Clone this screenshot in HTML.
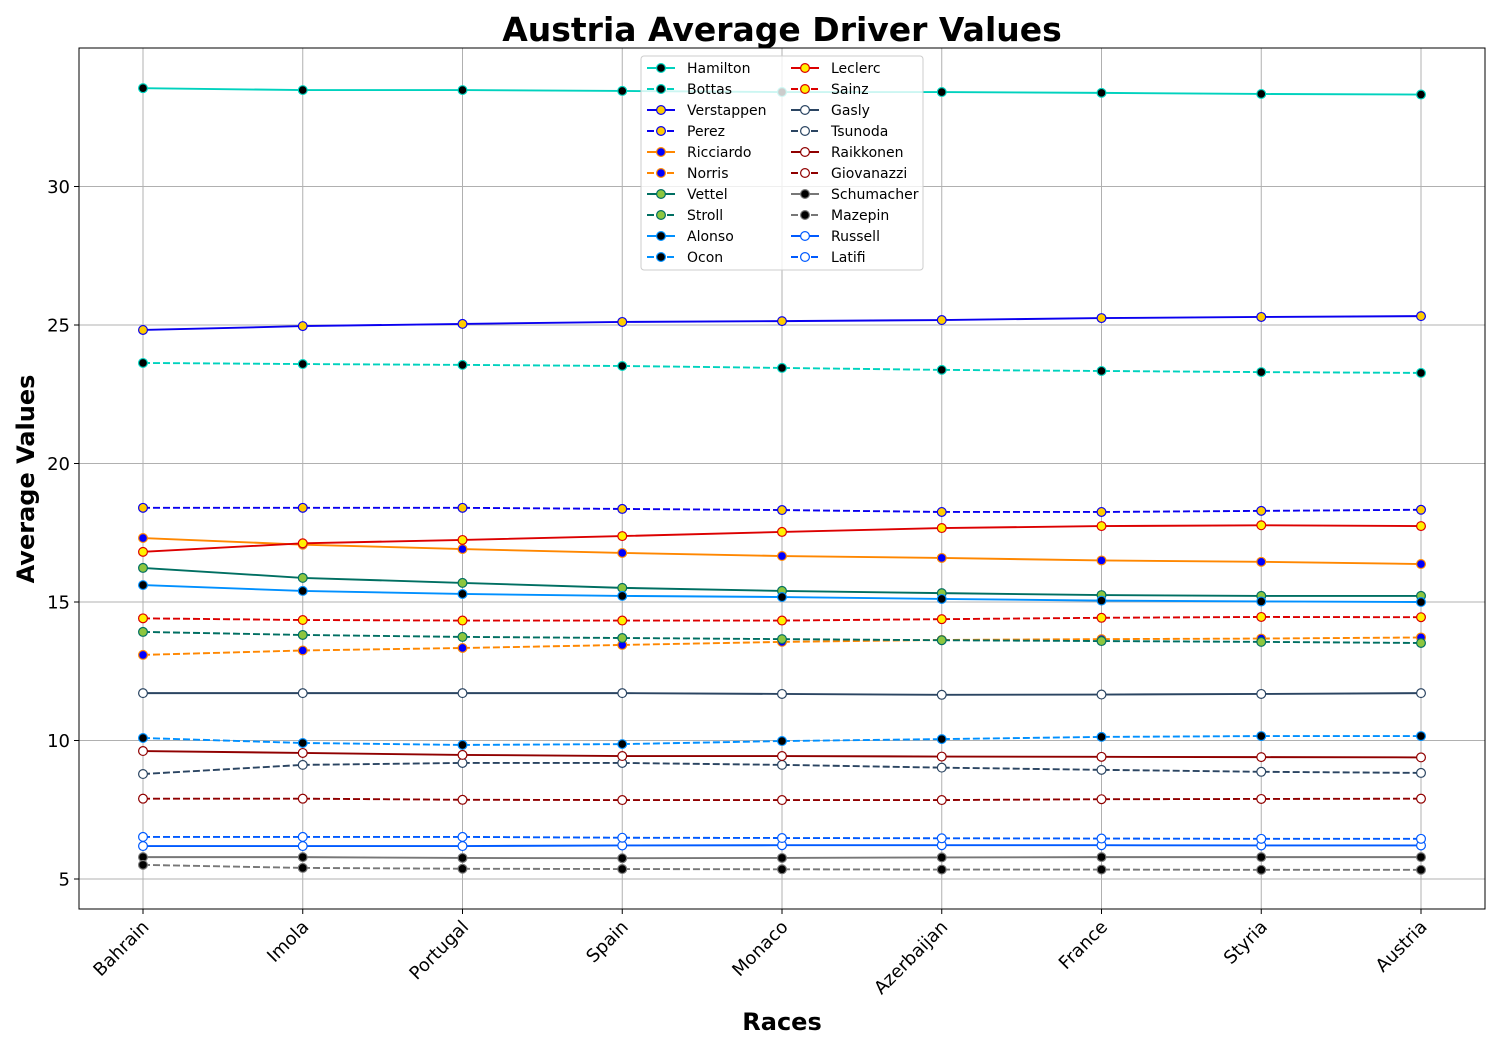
<!DOCTYPE html>
<html><head><meta charset="utf-8"><style>
body{margin:0;background:#fff;font-family:"Liberation Sans","DejaVu Sans",sans-serif;}
svg text{font-family:"DejaVu Sans","Liberation Sans",sans-serif;}
</style></head><body>
<svg id="chart" width="1500" height="1050" xmlns="http://www.w3.org/2000/svg"></svg>
<script>
const races=["Bahrain","Imola","Portugal","Spain","Monaco","Azerbaijan","France","Styria","Austria"];
const yTicks=[5,10,15,20,25,30];
const drivers=["Hamilton","Bottas","Verstappen","Perez","Ricciardo","Norris","Vettel","Stroll","Alonso","Ocon","Leclerc","Sainz","Gasly","Tsunoda","Raikkonen","Giovanazzi","Schumacher","Mazepin","Russell","Latifi"];
const hamilton=[33.55,33.48,33.48,33.45,33.41,33.41,33.38,33.34,33.32];
const bottas=[23.63,23.59,23.56,23.52,23.45,23.38,23.34,23.30,23.27];
const verstappen=[24.82,24.96,25.04,25.11,25.14,25.18,25.25,25.29,25.32];
const perez=[18.40,18.40,18.40,18.36,18.32,18.25,18.25,18.29,18.33];
const ricciardo=[17.31,17.07,16.91,16.77,16.66,16.59,16.50,16.45,16.37];
const norris=[13.09,13.25,13.34,13.45,13.56,13.63,13.66,13.68,13.72];
const vettel=[16.23,15.87,15.69,15.51,15.40,15.32,15.25,15.22,15.22];
const stroll=[13.92,13.81,13.74,13.70,13.66,13.62,13.59,13.56,13.52];
const alonso=[15.61,15.40,15.29,15.22,15.18,15.11,15.05,15.02,15.00];
const ocon=[10.09,9.91,9.84,9.87,9.98,10.05,10.13,10.16,10.16];
const leclerc=[16.81,17.12,17.24,17.38,17.53,17.67,17.74,17.77,17.74];
const sainz=[14.41,14.35,14.33,14.33,14.33,14.38,14.43,14.46,14.45];
const gasly=[11.71,11.71,11.71,11.71,11.68,11.65,11.66,11.68,11.71];
const tsunoda=[8.79,9.12,9.19,9.19,9.12,9.02,8.94,8.87,8.83];
const raikkonen=[9.62,9.55,9.48,9.44,9.44,9.42,9.41,9.40,9.39];
const giovanazzi=[7.90,7.90,7.86,7.85,7.85,7.85,7.88,7.89,7.90];
const schumacher=[5.79,5.79,5.76,5.75,5.76,5.78,5.79,5.79,5.79];
const mazepin=[5.51,5.40,5.37,5.36,5.35,5.34,5.34,5.33,5.33];
const russell=[6.19,6.19,6.19,6.21,6.22,6.22,6.22,6.21,6.21];
const latifi=[6.52,6.52,6.52,6.49,6.48,6.47,6.46,6.45,6.45];
const values=[hamilton,bottas,verstappen,perez,ricciardo,norris,vettel,stroll,alonso,ocon,leclerc,sainz,gasly,tsunoda,raikkonen,giovanazzi,schumacher,mazepin,russell,latifi];
const styles=[
["#00d2be","#000",0],["#00d2be","#000",1],
["#0a00ef","#ffcc00",0],["#0a00ef","#ffcc00",1],
["#ff8700","#0000ff",0],["#ff8700","#0000ff",1],
["#006f62","#8dc63f",0],["#006f62","#8dc63f",1],
["#0090ff","#000",0],["#0090ff","#000",1],
["#dc0000","#fff200",0],["#dc0000","#fff200",1],
["#2b4562","#fff",0],["#2b4562","#fff",1],
["#900000","#fff",0],["#900000","#fff",1],
["#777","#000",0],["#777","#000",1],
["#005aff","#fff",0],["#005aff","#fff",1]];
const L=79,R=1485,T=48,B=909,X0=143,DX=159.75;
const yMin=3.917,yMax=35.0;
function xs(i){return X0+i*DX;}
function ys(v){return B-(v-yMin)/(yMax-yMin)*(B-T);}
const NS="http://www.w3.org/2000/svg";
const svg=document.getElementById('chart');
function mk(tag,attrs,parent){const e=document.createElementNS(NS,tag);for(const k in attrs)e.setAttribute(k,attrs[k]);(parent||svg).appendChild(e);return e;}
const grid=mk('g',{});


races.forEach((r,i)=>{mk('line',{x1:xs(i),x2:xs(i),y1:T,y2:B,stroke:'#b0b0b0','stroke-width':1},grid);});
yTicks.forEach(v=>{mk('line',{x1:L,x2:R,y1:ys(v),y2:ys(v),stroke:'#b0b0b0','stroke-width':1},grid);});
drivers.forEach((d,k)=>{
  const st=styles[k];
  const g=mk('g',{});
  
  
  const pts=values[k].map((v,i)=>xs(i)+','+ys(v)).join(' ');
  const pl=mk('polyline',{points:pts,fill:'none',stroke:st[0],'stroke-width':1.9});
  if(st[2])pl.setAttribute('stroke-dasharray','7,3');
  g.appendChild(pl);
  values[k].forEach((v,i)=>{
    const c=mk('circle',{cx:xs(i),cy:ys(v),r:4.4,fill:st[1],stroke:st[0],'stroke-width':1.2},g);
    
    
  });
});
const fr=mk('rect',{x:L,y:T,width:R-L,height:B-T,fill:'none',stroke:'#000','stroke-width':1});


yTicks.forEach(v=>{
  mk('line',{x1:L-5,x2:L,y1:ys(v),y2:ys(v),stroke:'#000'});
  const t=mk('text',{x:L-9,y:ys(v)+6.5,'text-anchor':'end','font-size':18});
  t.textContent=v;
  
  
});
races.forEach((r,i)=>{
  mk('line',{x1:xs(i),x2:xs(i),y1:B,y2:B+5,stroke:'#000'});
  const t=mk('text',{x:0,y:0,'text-anchor':'end','font-size':18,transform:`translate(${xs(i)+7},${B+19}) rotate(-45)`});
  t.textContent=r;
  
  
});
let t=mk('text',{x:782,y:41,'text-anchor':'middle','font-size':33,'font-weight':'bold'});t.textContent='Austria Average Driver Values';


t=mk('text',{x:782,y:1030,'text-anchor':'middle','font-size':24,'font-weight':'bold'});t.textContent='Races';


t=mk('text',{x:0,y:0,'text-anchor':'middle','font-size':24,'font-weight':'bold',transform:'translate(34,479) rotate(-90)'});t.textContent='Average Values';


const lg=mk('g',{});


mk('rect',{x:641,y:56,width:282,height:214,rx:3,fill:'#fff','fill-opacity':0.8,stroke:'#ccc'},lg);
drivers.forEach((d,k)=>{
  const st=styles[k];
  const col=Math.floor(k/10),row=k%10;
  const x0=col?791:647, y0=68+row*21;
  const e=mk('g',{},lg);
  
  
  const ln=mk('line',{x1:x0,x2:x0+28,y1:y0,y2:y0,stroke:st[0],'stroke-width':1.9},e);
  if(st[2])ln.setAttribute('stroke-dasharray','7,3');
  mk('circle',{cx:x0+14,cy:y0,r:4.4,fill:st[1],stroke:st[0],'stroke-width':1.2},e);
  const tx=mk('text',{x:x0+40,y:y0+5,'font-size':14},e);tx.textContent=d;
});
</script>
</body></html>
